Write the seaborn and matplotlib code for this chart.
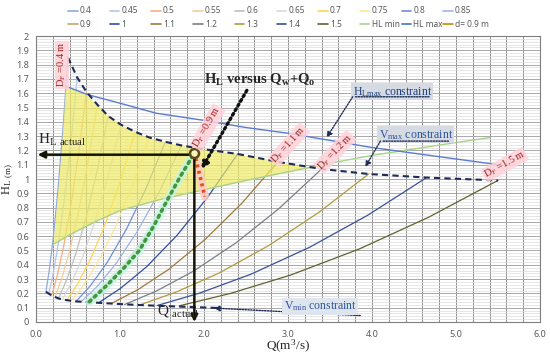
import matplotlib
matplotlib.use("Agg")
import matplotlib.pyplot as plt
from matplotlib.lines import Line2D
from matplotlib.ticker import MultipleLocator, FuncFormatter
import pandas as pd
import seaborn as sns

# ---------------------
# Data
# ---------------------
diameters = ["0.4", "0.45", "0.5", "0.55", "0.6", "0.65", "0.7", "0.75", "0.8", "0.85",
             "0.9", "1", "1.1", "1.2", "1.3", "1.4", "1.5"]
pipe_colors = ["#8faadc", "#b4c7e7", "#f4b183", "#f2cf9a", "#bfbfbf", "#d9d9d9", "#ffd54f",
               "#ffe699", "#6f8fd8", "#9db5e8", "#c8a46a", "#2f4f9f", "#a07a3a", "#7a7f88",
               "#b09a3c", "#3a5296", "#62622f"]

# head loss curves, one list per pipe diameter
pipe_q = [
    [0.118, 0.160, 0.209, 0.266, 0.323, 0.38],
    [0.152, 0.206, 0.270, 0.343, 0.417, 0.49],
    [0.186, 0.252, 0.330, 0.420, 0.510, 0.60],
    [0.226, 0.307, 0.402, 0.511, 0.621, 0.73],
    [0.267, 0.361, 0.473, 0.602, 0.731, 0.86],
    [0.313, 0.424, 0.556, 0.707, 0.859, 1.01],
    [0.366, 0.496, 0.649, 0.826, 1.003, 1.18],
    [0.419, 0.567, 0.743, 0.945, 1.148, 1.35],
    [0.477, 0.647, 0.847, 1.078, 1.309, 1.54],
    [0.536, 0.727, 0.952, 1.211, 1.471, 1.73],
    [0.595, 0.806, 1.056, 1.344, 1.632, 1.92],
    [0.744, 1.008, 1.320, 1.680, 2.040, 2.40],
    [0.893, 1.210, 1.584, 2.016, 2.448, 2.88],
    [1.054, 1.428, 1.870, 2.380, 2.890, 3.40],
    [1.228, 1.663, 2.178, 2.772, 3.366, 3.96],
    [1.442, 1.953, 2.558, 3.255, 3.953, 4.65],
    [1.705, 2.310, 3.025, 3.850, 4.675, 5.50],
]
pipe_hl = [
    [0.211, 0.371, 0.611, 0.956, 1.369, 1.85],
    [0.195, 0.343, 0.565, 0.883, 1.266, 1.71],
    [0.184, 0.323, 0.532, 0.832, 1.192, 1.61],
    [0.173, 0.305, 0.502, 0.785, 1.125, 1.52],
    [0.164, 0.289, 0.476, 0.744, 1.066, 1.44],
    [0.157, 0.277, 0.456, 0.713, 1.021, 1.38],
    [0.152, 0.267, 0.440, 0.687, 0.984, 1.33],
    [0.147, 0.259, 0.426, 0.666, 0.955, 1.29],
    [0.144, 0.253, 0.416, 0.651, 0.933, 1.26],
    [0.141, 0.248, 0.408, 0.638, 0.914, 1.235],
    [0.139, 0.244, 0.402, 0.628, 0.899, 1.215],
    [0.134, 0.236, 0.388, 0.607, 0.870, 1.175],
    [0.128, 0.225, 0.370, 0.579, 0.829, 1.12],
    [0.122, 0.215, 0.354, 0.553, 0.792, 1.07],
    [0.118, 0.208, 0.342, 0.535, 0.766, 1.035],
    [0.115, 0.203, 0.334, 0.522, 0.748, 1.01],
    [0.113, 0.199, 0.327, 0.511, 0.733, 0.99],
]

# constraint lines
hlmin_q = [0.2, 0.4, 0.7, 1.0, 1.5, 2.0, 2.5, 3.0, 3.5, 4.0, 4.5, 5.0, 5.4]
hlmin_hl = [0.54, 0.61, 0.70, 0.78, 0.86, 0.925, 0.99, 1.05, 1.11, 1.165, 1.21, 1.255, 1.29]
hlmax_q = [0.35, 0.615, 1.0, 1.43, 2.0, 2.5, 3.0, 3.5, 4.0, 4.5, 5.0, 5.5]
hlmax_hl = [1.65, 1.59, 1.53, 1.46, 1.41, 1.36, 1.32, 1.27, 1.22, 1.18, 1.14, 1.10]
vmax_q = [0.38, 0.49, 0.60, 0.73, 0.86, 1.01, 1.18, 1.35, 1.54, 1.73, 1.92, 2.40, 2.88, 3.40, 3.96, 4.65, 5.50]
vmax_hl = [1.85, 1.71, 1.61, 1.52, 1.44, 1.38, 1.33, 1.29, 1.26, 1.235, 1.215, 1.175, 1.12, 1.07, 1.035, 1.01, 0.99]
vmin_q = [0.118, 0.19, 0.27, 0.37, 0.48, 0.6, 0.75, 0.9, 1.07, 1.26, 1.46, 1.7, 2.2]
vmin_hl = [0.211, 0.184, 0.164, 0.152, 0.144, 0.139, 0.134, 0.129, 0.123, 0.118, 0.113, 0.108, 0.097]

# feasible (yellow) zone
fill_q = [0.205, 0.25, 0.30, 0.35, 0.45, 0.6, 0.73, 0.86, 1.01, 1.18, 1.35, 1.54, 1.73, 1.92, 2.40, 2.88, 3.1, 3.27]
fill_low = [0.55, 0.56, 0.575, 0.59, 0.63, 0.67, 0.71, 0.74, 0.78, 0.81, 0.835, 0.865, 0.89, 0.915, 0.975, 1.035, 1.06, 1.08]
fill_high = [0.55, 0.86, 1.20, 1.65, 1.63, 1.59, 1.52, 1.44, 1.38, 1.33, 1.29, 1.26, 1.235, 1.215, 1.175, 1.12, 1.10, 1.08]

# operating curves
green_q = [0.635, 0.85, 1.05, 1.23, 1.4, 1.56, 1.72, 1.885]
green_hl = [0.142, 0.26, 0.38, 0.50, 0.67, 0.85, 1.02, 1.18]
red_q = [1.885, 1.91, 1.96, 2.01]
red_hl = [1.19, 1.12, 1.0, 0.876]
q_actual, hl_actual = 1.885, 1.17

legend_labels = diameters + ["HL min", "HL max", "d= 0.9 m"]
extra_colors = ["#a9d18e", "#4472c4", "#bf9000"]

# ---------------------
# Plot
# ---------------------
sns.set_theme(style="white")
plt.rcParams["font.family"] = ["Noto Sans", "DejaVu Sans"]
plt.rcParams["mathtext.default"] = "regular"
serif = ["Liberation Serif", "DejaVu Serif"]

fig, ax = plt.subplots(figsize=(5.5, 3.58), dpi=100)
fig.subplots_adjust(left=0.0655, right=0.9818, bottom=0.1006, top=0.8994)

rows = []
for d, qs, hs in zip(diameters, pipe_q, pipe_hl):
    for q, h in zip(qs, hs):
        rows.append((d, q, h))
df = pd.DataFrame(rows, columns=["D", "Q", "HL"])
sns.lineplot(data=df, x="Q", y="HL", hue="D", hue_order=diameters, palette=pipe_colors,
             estimator=None, sort=False, legend=False, lw=0.9, ax=ax, zorder=2)

ax.fill_between(fill_q, fill_low, fill_high, color="#f0eb62", alpha=0.68, lw=0, zorder=3)
ax.plot(hlmin_q, hlmin_hl, color=extra_colors[0], lw=1.0, zorder=4)
ax.plot(hlmax_q, hlmax_hl, color="#5b7bd0", lw=1.0, zorder=4)
ax.plot(vmax_q, vmax_hl, color="#1f2b55", lw=1.5, ls=(0, (3, 2)), zorder=5)
ax.plot(vmin_q, vmin_hl, color="#1f2b55", lw=1.5, ls=(0, (3, 2)), zorder=5)

# highlighted curves
ax.plot(green_q, green_hl, color="#c9f3e4", lw=6, alpha=0.8, zorder=5, solid_capstyle="round")
ax.plot(green_q, green_hl, color="#3f9a3f", lw=2.6, ls=(0, (0.6, 1.3)), dash_capstyle="round", zorder=6)
ax.plot(red_q, red_hl, color="#ffc9c9", lw=6, alpha=0.8, zorder=5)
ax.plot(red_q, red_hl, color="#e0501a", lw=2.6, ls=(0, (0.8, 1.0)), zorder=6)

# actual point arrows
arrow_kw = dict(arrowstyle="-|>", color="#151505", lw=1.8, shrinkA=0, shrinkB=0, mutation_scale=10)
ax.annotate("", xy=(0.02, hl_actual), xytext=(q_actual, hl_actual), arrowprops=arrow_kw, zorder=7)
ax.annotate("", xy=(q_actual, 0.0), xytext=(q_actual, hl_actual), arrowprops=arrow_kw, zorder=7)
ax.scatter([q_actual], [1.18], s=42, facecolors="#f7f3c0", edgecolors="#5a4b14", linewidths=1.8, zorder=8)

ax.text(0.02, 1.22, r"H$_{L\ actual}$", family=serif, fontsize=11, ha="left", va="bottom", zorder=9)
ax.text(1.44, 0.02, r"Q $_{actual}$", family=serif, fontsize=11, ha="left", va="bottom", zorder=9)

# HL versus Qw+Qo
ax.text(2.67, 1.69, r"H$_L$ versus Q$_w$+Q$_o$", family=serif, fontsize=10.5, fontweight="bold",
        ha="center", va="center", zorder=9)
ax.annotate("", xy=(1.97, 1.07), xytext=(2.51, 1.62),
            arrowprops=dict(arrowstyle="-|>", color="#111111", lw=2.4, ls=(0, (0.6, 1.0)),
                            shrinkA=0, shrinkB=0, mutation_scale=9), zorder=7)

# constraint callouts
box = dict(boxstyle="square,pad=0.12", fc="#d6dbe3", ec="none")
callout = dict(arrowstyle="-|>", color="#1f2b55", lw=1.0, ls=(0, (1, 1)), shrinkA=0, shrinkB=0,
               mutation_scale=8)
ax.text(3.77, 1.61, r"H$_{Lmax}$ constraint", family=serif, fontsize=8.5, color="#1f3f7f",
        ha="left", va="center", bbox=box, zorder=9)
ax.annotate("", xy=(4.72, 1.575), xytext=(3.77, 1.575),
            arrowprops=dict(arrowstyle="-", color="#1f2b55", lw=1.0, ls=(0, (1, 1))), zorder=9)
ax.annotate("", xy=(3.46, 1.29), xytext=(3.77, 1.575), arrowprops=callout, zorder=9)

ax.text(4.08, 1.31, r"V$_{max}$ constraint", family=serif, fontsize=8.5, color="#2e5597",
        ha="left", va="center", bbox=box, zorder=9)
ax.annotate("", xy=(4.95, 1.265), xytext=(4.10, 1.265),
            arrowprops=dict(arrowstyle="-", color="#1f2b55", lw=1.0, ls=(0, (1, 1))), zorder=9)
ax.annotate("", xy=(3.92, 1.085), xytext=(4.10, 1.265), arrowprops=callout, zorder=9)

ax.text(2.95, 0.108, r"V$_{min}$ constraint", family=serif, fontsize=8.5, color="#2e5597",
        ha="left", va="center", bbox=dict(boxstyle="square,pad=0.12", fc="#dfe5ee", ec="none"), zorder=9)
ax.annotate("", xy=(2.12, 0.097), xytext=(3.86, 0.045), arrowprops=callout, zorder=8)

# pipe diameter tags
d_tags = [("0.4", 0.31, 1.80, 90), ("0.9", 2.04, 1.36, 60), ("1.1", 3.01, 1.24, 48),
          ("1.2", 3.56, 1.19, 46), ("1.5", 5.58, 1.10, 29)]
for val, tq, th, rot in d_tags:
    ax.text(tq, th, r"D$_F$ =" + val + " m", family=serif, fontsize=7.5, color="#a0201a",
            rotation=rot, ha="center", va="center", rotation_mode="anchor",
            bbox=dict(boxstyle="square,pad=0.1", fc="#ffd3da", ec="none", alpha=0.85), zorder=9)

# axes styling
ax.set_xlim(0, 6)
ax.set_ylim(0, 2)
ax.xaxis.set_major_locator(MultipleLocator(1.0))
ax.xaxis.set_minor_locator(MultipleLocator(0.2))
ax.yaxis.set_major_locator(MultipleLocator(0.1))
ax.yaxis.set_minor_locator(MultipleLocator(0.02))
ax.xaxis.set_major_formatter(FuncFormatter(lambda v, p: f"{v:.1f}"))
ax.yaxis.set_major_formatter(FuncFormatter(lambda v, p: f"{round(v, 1):g}"))
ax.set_axisbelow(True)
ax.xaxis.grid(True, which="both", color="#909090", lw=0.7)
ax.yaxis.grid(True, which="major", color="#a8a8a8", lw=0.7)
ax.yaxis.grid(True, which="minor", color="#dcdcdc", lw=0.5)
ax.tick_params(which="both", length=0)
ax.tick_params(axis="x", pad=6, labelsize=6.5, labelcolor="#595959")
ax.tick_params(axis="y", pad=5, labelsize=6.5, labelcolor="#595959")
for s in ax.spines.values():
    s.set_color("#7f7f7f")
    s.set_linewidth(0.8)

ax.set_xlabel(r"Q(m$^3$/s)", family=serif, fontsize=9.5)
ax.set_ylabel(r"H$_{L\ (m)}$", family=serif, fontsize=9)
ax.xaxis.set_label_coords(0.5, -0.056)
ax.yaxis.set_label_coords(-0.04, 0.5)

# legend: one small legend per column so the columns keep equal spacing
handles = [Line2D([], [], color=c, lw=1.2) for c in pipe_colors + extra_colors]
for i in range(10):
    fig.legend([handles[i], handles[i + 10]], [legend_labels[i], legend_labels[i + 10]],
               loc="upper left", bbox_to_anchor=((68 + 41.7 * i) / 550, 0.982), frameon=False,
               fontsize=6, handlelength=1.15, handletextpad=0.25, labelspacing=0.55,
               borderpad=0, borderaxespad=0, labelcolor="#595959")

fig.savefig("out.png", dpi=100)
